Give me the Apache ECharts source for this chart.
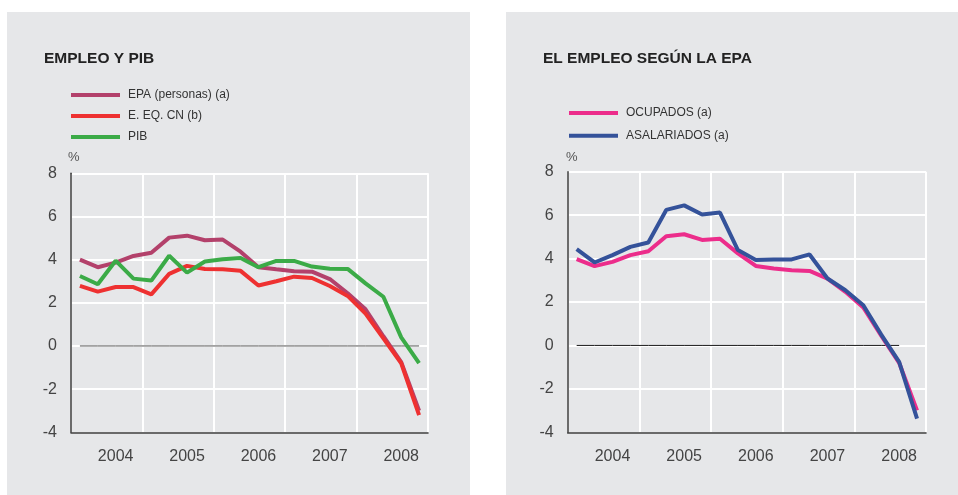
<!DOCTYPE html>
<html><head><meta charset="utf-8">
<script src="https://cdn.jsdelivr.net/npm/echarts@6/dist/echarts.min.js"></script>
<style>html,body{margin:0;padding:0;background:#fff}#c{width:958px;height:495px}</style>
</head><body><div id="c"></div>
<script>
const quarters = ['2004 I','2004 II','2004 III','2004 IV','2005 I','2005 II','2005 III','2005 IV',
  '2006 I','2006 II','2006 III','2006 IV','2007 I','2007 II','2007 III','2007 IV',
  '2008 I','2008 II','2008 III','2008 IV'];
const epa = [4.0,3.65,3.86,4.17,4.32,5.02,5.11,4.9,4.93,4.37,3.65,3.55,3.46,3.44,3.1,2.44,1.7,0.45,-0.75,-3.0];
const eqcn = [2.78,2.52,2.73,2.73,2.39,3.34,3.71,3.57,3.55,3.48,2.8,3.0,3.21,3.15,2.78,2.32,1.5,0.35,-0.8,-3.2];
const pib = [3.24,2.86,3.95,3.12,3.03,4.18,3.4,3.91,4.02,4.08,3.65,3.94,3.94,3.68,3.58,3.57,2.9,2.28,0.4,-0.8];
const ocupados = [3.97,3.65,3.85,4.16,4.34,5.03,5.12,4.86,4.91,4.24,3.66,3.54,3.46,3.43,3.08,2.47,1.75,0.45,-0.8,-2.99];
const asalariados = [4.43,3.82,4.16,4.54,4.74,6.24,6.45,6.03,6.12,4.39,3.93,3.96,3.96,4.19,3.08,2.54,1.85,0.5,-0.76,-3.37];
const zeroLeft = [0,0,0,0,0,0,0,0,0,0,0,0,0,0,0,0,0,0,0,0];
const zeroRight = [0,0,0,0,0,0,0,0,0,0,0,0,0,0,0,0,0,0,0];
const yTicks = {min:-4, max:8, interval:2};
const leftNames = ['EPA (personas) (a)','E. EQ. CN (b)','PIB'];
const rightNames = ['OCUPADOS (a)','ASALARIADOS (a)'];

const FONT = "'Liberation Sans', Arial, sans-serif";
const chart = echarts.init(document.getElementById('c'), null, {renderer:'canvas'});

function yAxis(gi){
  return {type:'value', gridIndex:gi, min:yTicks.min, max:yTicks.max, interval:yTicks.interval,
    axisLine:{show:true, lineStyle:{color:'#3a3a3a', width:1.5}},
    axisTick:{show:false},
    axisLabel:{fontSize:16, color:'#444', margin:14, fontFamily:FONT},
    splitLine:{show:true, lineStyle:{color:'#ffffff', width:2}}};
}
function catAxis(gi){
  return {type:'category', gridIndex:gi, data:quarters, boundaryGap:true, position:'bottom',
    axisLine:{show:true, onZero:false, lineStyle:{color:'#3a3a3a', width:1.5}},
    axisTick:{show:false}, splitLine:{show:false},
    axisLabel:{interval:function(i){return i%4===2;}, formatter:function(v){return v.slice(0,4);},
      margin:16, fontSize:16, color:'#444', fontFamily:FONT}};
}
function gridAxis(gi){
  return {type:'value', gridIndex:gi, min:0, max:quarters.length, interval:4, position:'top',
    axisLine:{show:false}, axisTick:{show:false}, axisLabel:{show:false},
    splitLine:{show:true, lineStyle:{color:'#ffffff', width:2}}};
}
function line(name, data, color, xi, yi, w){
  return {name:name, type:'line', data:data, xAxisIndex:xi, yAxisIndex:yi, symbol:'none',
    lineStyle:{color:color, width:w}, itemStyle:{color:color}, silent:true};
}

chart.setOption({
  animation:false,
  textStyle:{fontFamily:FONT},
  graphic:[
    {type:'rect', z:-10, shape:{x:7, y:12, width:463, height:483}, style:{fill:'#e6e7e9'}},
    {type:'rect', z:-10, shape:{x:506, y:12, width:452, height:483}, style:{fill:'#e6e7e9'}},
    {type:'text', left:68, top:151, style:{text:'%', fontSize:13, fill:'#555', fontFamily:FONT}},
    {type:'text', left:566, top:151, style:{text:'%', fontSize:13, fill:'#555', fontFamily:FONT}}
  ],
  title:[
    {text:'EMPLEO Y PIB', left:44, top:51, padding:0, textStyle:{fontSize:15.5, fontWeight:'bold', color:'#222', fontFamily:FONT}},
    {text:'EL EMPLEO SEGÚN LA EPA', left:543, top:51, padding:0, textStyle:{fontSize:15.5, fontWeight:'bold', color:'#222', fontFamily:FONT}}
  ],
  legend:[
    {data:leftNames, orient:'vertical', left:71, top:88, itemWidth:49, itemHeight:4, itemGap:7, icon:'rect',
      selectedMode:false, padding:0, textStyle:{fontSize:12, color:'#333', lineHeight:14, padding:[0,0,0,3], fontFamily:FONT}},
    {data:rightNames, orient:'vertical', left:569, top:106, itemWidth:49, itemHeight:4, itemGap:8.7, icon:'rect',
      selectedMode:false, padding:0, textStyle:{fontSize:12, color:'#333', lineHeight:14, padding:[0,0,0,3], fontFamily:FONT}}
  ],
  grid:[
    {left:71, top:173.3, width:357, height:259},
    {left:567.7, top:171.7, width:358.3, height:260.6}
  ],
  xAxis:[catAxis(0), gridAxis(0), catAxis(1), gridAxis(1)],
  yAxis:[yAxis(0), yAxis(1)],
  series:[
    line('zeroL', zeroLeft, '#555555', 0, 0, 1),
    line(leftNames[0], epa, '#b3416b', 0, 0, 4),
    line(leftNames[1], eqcn, '#ee3131', 0, 0, 4),
    line(leftNames[2], pib, '#3bab47', 0, 0, 4),
    line('zeroR', zeroRight, '#1a1a1a', 2, 1, 1),
    line(rightNames[0], ocupados, '#ec2d8b', 2, 1, 4),
    line(rightNames[1], asalariados, '#34529a', 2, 1, 4)
  ]
});
</script></body></html>
